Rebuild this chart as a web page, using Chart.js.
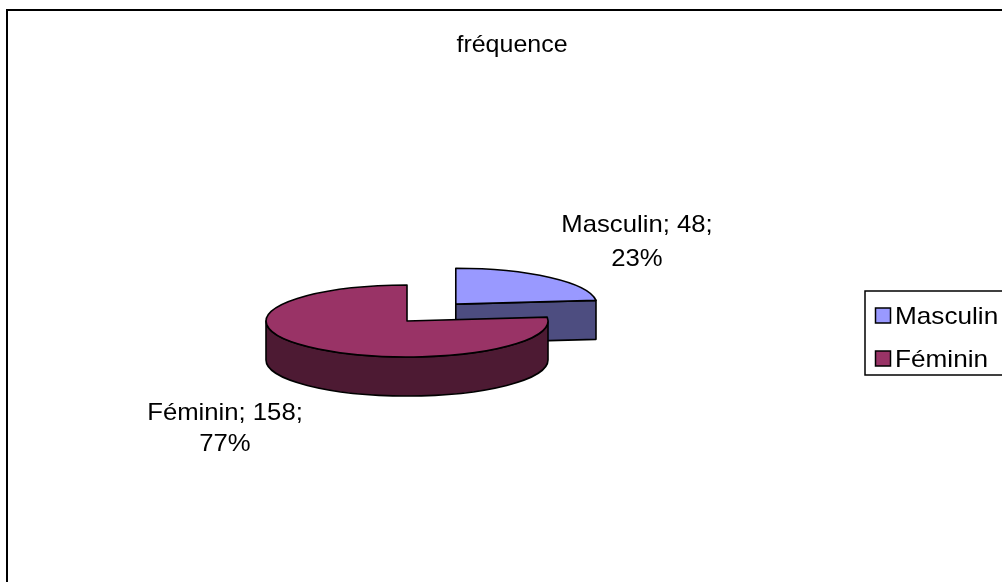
<!DOCTYPE html>
<html>
<head>
<meta charset="utf-8">
<script src="https://cdn.jsdelivr.net/npm/chart.js@4.4.1/dist/chart.umd.min.js"></script>
<style>
  html, body { margin: 0; padding: 0; background: #fff; overflow: hidden; }
  canvas { display: block; }
</style>
</head>
<body>
<canvas id="c" width="1002" height="582"></canvas>
<script>
// Répartition par sexe
const categories = ['Masculin', 'Féminin'];
const counts = [48, 158];
const chartTitle = 'fréquence';

// Couleurs : face supérieure / flanc
const topColors = ['#9999FF', '#993366'];
const sideColors = ['#4D4D80', '#4D1A33'];

const FONT = '24px "Liberation Sans", Arial, sans-serif';

// Texte légèrement élargi horizontalement (police large)
function wideText(ctx, text, x, y, align, sx) {
  const w = ctx.measureText(text).width * sx;
  let left = x;
  if (align === 'center') left = x - w / 2;
  else if (align === 'right') left = x - w;
  ctx.save();
  ctx.textAlign = 'left';
  ctx.translate(left, y);
  ctx.scale(sx, 1);
  ctx.fillText(text, 0, 0);
  ctx.restore();
}

// Camembert en perspective : l'angle de chaque part vient de l'arc calculé par Chart.js,
// la part est ensuite aplatie en ellipse et extrudée vers le bas.
const pie3d = {
  id: 'pie3d',
  beforeDraw(chart, args, opts) {
    const ctx = chart.ctx;
    ctx.save();
    ctx.fillStyle = '#fff';
    ctx.fillRect(0, 0, chart.width, chart.height);
    ctx.strokeStyle = '#000';
    ctx.lineWidth = 2;
    ctx.strokeRect(7, 10, chart.width + 50, chart.height + 50);
    ctx.restore();
  },
  beforeDatasetDraw(chart, args, opts) {
    const ctx = chart.ctx;
    const { tilt, depth, explodeTilt } = opts;
    const slices = args.meta.data.map((arc, i) => {
      const p = arc.getProps(['x', 'y', 'startAngle', 'endAngle', 'outerRadius'], true);
      const mid = (p.startAngle + p.endAngle) / 2;
      const off = arc.options.offset || 0;
      return {
        a: p.startAngle, b: p.endAngle, mid,
        rx: p.outerRadius, ry: p.outerRadius * tilt,
        cx: p.x + Math.cos(mid) * off,
        cy: p.y + Math.sin(mid) * off * explodeTilt,
        top: arc.options.backgroundColor,
        side: opts.sideColors[i]
      };
    });
    // back to front
    slices.sort((s, t) => (s.cy + Math.sin(s.mid) * s.ry) - (t.cy + Math.sin(t.mid) * t.ry));

    ctx.save();
    ctx.lineWidth = 1.6;
    ctx.lineJoin = 'round';
    ctx.strokeStyle = '#000';
    const paint = (fill) => { ctx.fillStyle = fill; ctx.fill(); ctx.stroke(); };

    for (const s of slices) {
      const { cx, cy, rx, ry, a, b } = s;
      // radial faces turned towards the viewer
      const radial = (t) => {
        const px = cx + rx * Math.cos(t), py = cy + ry * Math.sin(t);
        ctx.beginPath();
        ctx.moveTo(cx, cy);
        ctx.lineTo(px, py);
        ctx.lineTo(px, py + depth);
        ctx.lineTo(cx, cy + depth);
        ctx.closePath();
        paint(s.side);
      };
      if (Math.cos(a) < -1e-6) radial(a);
      if (Math.cos(b) > 1e-6) radial(b);
      // outer wall: only the front half [0, PI] (mod 2PI) shows
      for (let k = -1; k <= 1; k++) {
        const lo = Math.max(a, k * 2 * Math.PI);
        const hi = Math.min(b, k * 2 * Math.PI + Math.PI);
        if (hi - lo <= 1e-6) continue;
        ctx.beginPath();
        ctx.ellipse(cx, cy, rx, ry, 0, lo, hi);
        ctx.lineTo(cx + rx * Math.cos(hi), cy + ry * Math.sin(hi) + depth);
        ctx.ellipse(cx, cy + depth, rx, ry, 0, hi, lo, true);
        ctx.closePath();
        paint(s.side);
      }
      // top face
      ctx.beginPath();
      ctx.moveTo(cx, cy);
      ctx.ellipse(cx, cy, rx, ry, 0, a, b);
      ctx.closePath();
      paint(s.top);
    }
    ctx.restore();
    return false;
  },
  afterDraw(chart, args, opts) {
    const ctx = chart.ctx;
    const total = counts.reduce((x, y) => x + y, 0);
    ctx.save();
    ctx.fillStyle = '#000';
    ctx.font = FONT;
    ctx.textBaseline = 'alphabetic';

    // title
    wideText(ctx, chartTitle, 512, 52, 'center', 1.04);

    // data labels: "catégorie; valeur; pourcentage"
    categories.forEach((cat, i) => {
      const pos = opts.labelPos[i];
      const pct = Math.round(counts[i] / total * 100) + '%';
      wideText(ctx, cat + '; ' + counts[i] + ';', pos[0], pos[1], 'center', 1.07);
      wideText(ctx, pct, pos[0], pos[2], 'center', 1.07);
    });

    // legend
    const lg = opts.legend;
    ctx.lineWidth = 1.5;
    ctx.strokeStyle = '#000';
    ctx.strokeRect(lg.x, lg.y, lg.w, lg.h);
    categories.forEach((cat, i) => {
      const y = lg.y + lg.first + i * lg.step;
      ctx.fillStyle = topColors[i];
      ctx.fillRect(lg.x + 10.5, y - 16, 15, 15);
      ctx.strokeRect(lg.x + 10.5, y - 16, 15, 15);
      ctx.fillStyle = '#000';
      wideText(ctx, cat, lg.x + 30, y, 'left', 1.09);
    });
    ctx.restore();
  }
};

new Chart(document.getElementById('c'), {
  type: 'pie',
  data: {
    labels: categories,
    datasets: [{
      data: counts,
      backgroundColor: topColors,
      borderColor: '#000',
      borderWidth: 0,
      offset: [73, 0]
    }]
  },
  options: {
    responsive: false,
    animation: false,
    radius: 141,
    layout: { padding: { left: 0, right: 188, top: 60, bottom: 0 } },
    events: [],
    plugins: {
      legend: { display: false },
      title: { display: false },
      tooltip: { enabled: false },
      pie3d: {
        tilt: 0.255,
        depth: 39,
        explodeTilt: 0.31,
        sideColors: sideColors,
        labelPos: [[637, 232, 266], [225, 420, 451]],
        legend: { x: 865, y: 291, w: 200, h: 84, first: 33, step: 43 }
      }
    }
  },
  plugins: [pie3d]
});
</script>
</body>
</html>
